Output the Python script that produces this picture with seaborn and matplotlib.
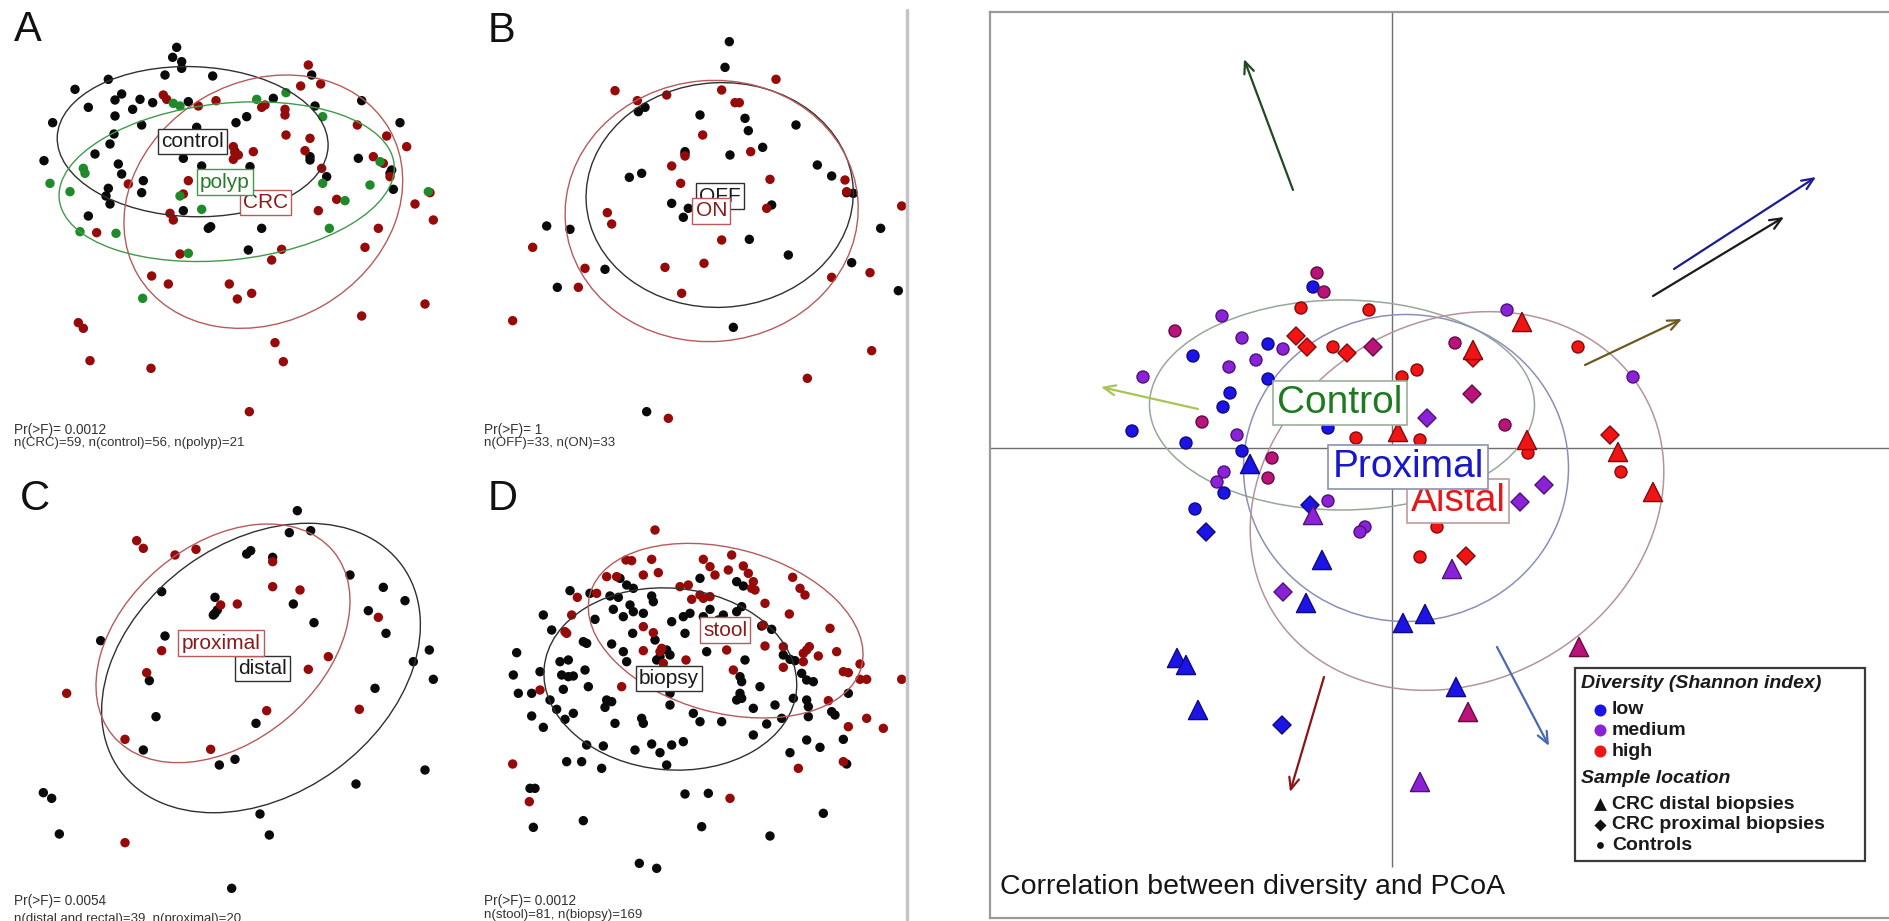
import numpy as np
import pandas as pd
import matplotlib
matplotlib.use("Agg")
import matplotlib.pyplot as plt
from matplotlib.patches import Ellipse, Rectangle
from matplotlib.lines import Line2D
import seaborn as sns

sns.set_theme(style="white")
plt.rcParams['font.family'] = ['Liberation Sans', 'DejaVu Sans']

# ---------------------------------------------------------------- data
# Panel A (ordination coordinates, screen-like units)
A_control = [(530,142),(518,172),(545,185),(545,205),(495,225),(325,238),(225,268),(638,228),(265,322),(158,368),
             (365,282),(345,300),(420,298),(458,308),(398,328),(345,348),(425,375),(342,402),(330,432),(285,462),
             (132,482),(355,492),(365,522),(430,542),(325,565),(318,588),(330,612),(425,578),(265,648),(550,475),
             (590,382),(605,498),(740,350),(708,368),(565,305),(820,295),(945,318),(930,470),(980,530),(550,632),
             (625,685),(632,680),(785,685),(745,750),(1085,302),(1200,368),(1075,475),(1175,510),(1180,568),(935,225),
             (705,455),(750,500),(1170,520),(930,480)]
A_crc = [(925,195),(962,252),(902,258),(795,315),(785,322),(490,285),(500,298),(595,318),(648,302),(855,328),
         (855,345),(858,405),(930,415),(915,452),(1072,375),(1160,408),(1220,440),(1120,470),(1150,490),(1170,530),
         (965,505),(700,440),(705,460),(700,478),(715,465),(760,455),(565,542),(385,552),(550,582),(510,640),
         (520,660),(1010,598),(1245,612),(1300,660),(1290,578),(955,632),(1135,685),(1095,742),(845,748),(815,780),
         (540,762),(290,698),(455,828),(505,852),(688,852),(712,897),(755,880),(1275,912),(1085,948),(235,968),
         (250,985),(825,1028),(850,1085),(270,1082),(453,1105),(748,1235)]
A_polyp = [(770,298),(858,278),(520,310),(540,318),(968,350),(255,520),(150,550),(210,575),(540,588),(605,628),
           (968,550),(1110,555),(1140,485),(1035,602),(1285,575),(988,685),(240,695),(348,700),(565,760),(428,895),
           (250,505)]

# Panel B
B_off = [(778,125),(765,202),(505,335),(525,322),(690,345),(825,355),(835,392),(978,375),(645,455),(780,465),
         (878,442),(478,532),(515,520),(1042,495),(1085,528),(1150,580),(605,610),(655,625),(640,652),(905,615),
         (230,678),(300,688),(838,718),(955,765),(1145,788),(1232,685),(405,808),(262,862),(1285,872),(790,982),
         (530,1235),(645,462),(1130,578)]
B_on = [(918,238),(435,272),(502,302),(590,285),(755,270),(795,308),(808,308),(698,405),(842,455),(645,468),
        (605,498),(632,550),(900,538),(1125,540),(1130,575),(890,625),(412,638),(425,672),(755,720),(702,790),
        (585,802),(345,805),(325,862),(635,880),(1085,832),(1200,818),(188,742),(1295,618),(128,962),(1205,1052),
        (1012,1135),(595,1255)]

# Panel C
C_distal = [(892,152),(868,218),(932,212),(740,282),(752,272),(818,292),(1050,345),(1150,382),(1215,422),(485,395),
            (645,412),(645,460),(640,465),(880,432),(942,488),(1105,452),(1158,520),(1288,570),(1240,605),(1300,658),
            (1125,685),(302,542),(495,528),(448,662),(468,770),(768,790),(430,870),(658,915),(705,898),(1275,930),
            (1068,972),(130,998),(155,1015),(178,1122),(780,1062),(808,1125),(695,1285),(652,450)]
C_proximal = [(410,242),(430,265),(525,285),(588,268),(818,305),(818,380),(900,390),(662,435),(712,432),(1135,472),
              (485,572),(440,638),(985,590),(925,628),(200,700),(800,752),(1078,748),(375,838),(632,868),(375,1148)]

# Panel D
D_biopsy = [(450,355),(470,375),(490,385),(420,408),(445,412),(545,408),(550,425),(300,392),(360,400),(375,478),
            (430,448),(480,435),(460,470),(490,455),(520,460),(220,465),(245,510),(340,545),(350,550),(488,520),
            (605,485),(640,470),(660,460),(645,520),(690,355),(720,448),(800,365),(820,378),(815,440),(800,455),
            (875,498),(905,508),(710,575),(590,570),(600,585),(425,552),(460,575),(470,605),(140,578),(130,645),
            (145,700),(185,700),(210,635),(270,605),(295,600),(275,645),(295,650),(310,648),(345,630),(355,680),
            (280,688),(240,720),(260,748),(285,778),(310,760),(185,768),(220,802),(410,720),(425,725),(405,742),
            (435,790),(515,775),(520,790),(600,735),(600,700),(580,660),(670,760),(690,785),(755,785),(810,700),
            (815,715),(800,720),(810,650),(815,665),(825,600),(870,680),(850,745),(915,735),(935,775),(890,792),
            (850,825),(970,715),(1010,720),(1015,740),(1015,770),(1085,755),(1095,765),(1135,700),(940,585),(960,598),
            (975,602),(995,640),(1010,660),(1030,665),(350,855),(400,858),(495,870),(545,852),(570,878),(605,855),
            (640,845),(590,915),(290,905),(335,905),(395,925),(960,878),(1010,840),(1050,862),(1120,838),(1130,912),
            (180,985),(195,985),(645,1002),(715,1000),(340,1082),(190,1102),(695,1100),(900,1128),(1060,1060),(508,1210),
            (560,1225),(555,540),(560,600),(570,590),(700,470),(745,480),(760,465)]
D_stool = [(555,210),(468,300),(485,302),(545,298),(700,298),(720,320),(735,345),(785,285),(775,330),(820,318),
           (835,340),(850,365),(855,390),(410,350),(440,350),(520,345),(565,338),(630,380),(655,375),(690,405),
           (720,410),(665,418),(380,400),(322,412),(305,465),(285,515),(290,520),(520,500),(550,518),(520,572),
           (575,565),(570,575),(648,600),(770,570),(790,630),(885,430),(968,352),(990,385),(1005,405),(958,462),
           (1080,505),(885,558),(940,560),(1018,560),(1045,588),(1100,575),(1170,612),(1120,635),(1135,638),(1170,658),
           (1190,658),(1295,658),(1000,605),(940,622),(1075,722),(1190,775),(1240,805),(1135,800),(1120,905),(985,925),
           (455,680),(210,690),(128,912),(178,1025),(780,1015),(600,640),(580,610),(880,495),(1000,580),(845,385),
           (700,415),(1010,570)]

# dispersion ellipses per panel: (cx, cy, width, height, angle)
A_ell = {'control': (578, 425, 813, 450, 2), 'polyp': (680, 545, 1010, 470, -6), 'CRC': (790, 605, 872, 719, -30)}
B_ell = {'OFF': (749, 585, 802, 674, -3), 'ON': (725, 633, 880, 783, -5)}
C_ell = {'proximal': (669, 550, 862, 592, -40), 'distal': (783, 624, 1046, 758, -36)}
D_ell = {'stool': (767, 512, 843, 493, 15), 'biopsy': (601, 657, 760, 545, 5)}

# centroid label positions
A_lab = {'control': (576, 424), 'polyp': (675, 546), 'CRC': (796, 607)}
B_lab = {'OFF': (750, 588), 'ON': (724, 633)}
C_lab = {'proximal': (663, 549), 'distal': (788, 626)}
D_lab = {'stool': (765, 510), 'biopsy': (597, 655)}

A_stats = ["Pr(>F)= 0.0012", "n(CRC)=59, n(control)=56, n(polyp)=21"]
B_stats = ["Pr(>F)= 1", "n(OFF)=33, n(ON)=33"]
C_stats = ["Pr(>F)= 0.0054", "n(distal and rectal)=39, n(proximal)=20"]
D_stats = ["Pr(>F)= 0.0012", "n(stool)=81, n(biopsy)=169"]

# Right panel: PCoA coloured by diversity
pc_circle = [(1317,273,'mh'),(1313,287,'low'),(1324,292,'mh'),(1301,308,'high'),(1222,316,'medium'),(1175,331,'mh'),
             (1242,338,'medium'),(1268,344,'low'),(1283,349,'medium'),(1333,347,'high'),(1193,356,'low'),(1256,360,'medium'),
             (1229,367,'medium'),(1143,377,'medium'),(1268,379,'low'),(1230,393,'low'),(1223,407,'low'),(1202,422,'mh'),
             (1132,431,'low'),(1186,443,'low'),(1237,435,'medium'),(1242,451,'low'),(1328,428,'low'),(1272,458,'mh'),
             (1369,310,'high'),(1507,310,'medium'),(1455,343,'mh'),(1578,347,'high'),(1417,370,'high'),(1402,377,'high'),
             (1505,425,'mh'),(1528,453,'high'),(1356,438,'high'),(1420,440,'high'),(1268,478,'mh'),(1224,472,'medium'),
             (1217,482,'medium'),(1224,493,'low'),(1195,509,'low'),(1328,501,'medium'),(1365,527,'medium'),(1360,532,'medium'),
             (1437,527,'high'),(1420,557,'high'),(1633,377,'medium'),(1621,472,'high')]
pc_diamond = [(1296,336,'high'),(1307,347,'high'),(1347,353,'high'),(1373,347,'mh'),(1473,358,'high'),(1472,394,'mh'),
              (1427,418,'medium'),(1206,532,'low'),(1310,505,'low'),(1283,592,'medium'),(1544,485,'medium'),
              (1520,502,'medium'),(1466,556,'high'),(1610,435,'high'),(1282,725,'low')]
pc_triangle = [(1522,322,'high'),(1473,350,'high'),(1527,440,'high'),(1398,432,'high'),(1250,464,'low'),(1313,515,'medium'),
               (1322,560,'low'),(1306,603,'low'),(1452,569,'medium'),(1403,623,'low'),(1425,614,'low'),(1653,492,'high'),
               (1618,452,'high'),(1177,658,'low'),(1186,665,'low'),(1198,710,'low'),(1456,687,'low'),(1468,712,'mh'),
               (1579,647,'mh'),(1420,782,'medium')]
pc_ell = {'Control': (1342, 405, 385, 210, 0), 'Proximal': (1406, 468, 325, 307, 0), 'Distal': (1457, 501, 430, 360, -30)}
pc_lab = {'Control': (1340, 403), 'Aistal': (1458, 501), 'Proximal': (1408, 467)}
arrow_start = [(1293,190),(1674,269),(1653,296),(1585,365),(1198,409),(1324,677),(1497,647)]
arrow_end = [(1244,59),(1816,177),(1784,217),(1682,319),(1101,387),(1290,792),(1549,746)]
arrow_col = ['#1f4a22', '#1c1c90', '#1a1a1a', '#6b5a20', '#a8c455', '#8b1515', '#4a6ab4']
legend_levels = ['low', 'medium', 'high']
legend_shapes = ['CRC distal biopsies', 'CRC proximal biopsies', 'Controls']
title_right = "Correlation between diversity and PCoA"

# ---------------------------------------------------------------- figure
W, H = 1890, 921
fig = plt.figure(figsize=(W / 100, H / 100), dpi=100)


def px_axes(x0, y0, x1, y1):
    return fig.add_axes([x0 / W, 1 - y1 / H, (x1 - x0) / W, (y1 - y0) / H])


BLACK = '#0a0a0a'
DRED = '#960a0a'
GREEN = '#1f8a2a'
STYLE = {'black': (BLACK, '#1a1a1a', '#303030'), 'red': (DRED, '#8b1a1a', '#b85a5a'),
         'green': (GREEN, '#2a7a2a', '#3f9a4a')}


def panel(box, xmax, ymax, letter, letter_xy, groups, ells, labs, stats, stat_y):
    ax = px_axes(*box)
    frames = []
    pal = {}
    for name, pts, key in groups:
        arr = np.array(pts, dtype=float)
        frames.append(pd.DataFrame({'x': arr[:, 0], 'y': arr[:, 1], 'g': name}))
        pal[name] = STYLE[key][0]
    df = pd.concat(frames, ignore_index=True)
    sns.scatterplot(data=df, x='x', y='y', hue='g', palette=pal, s=46, linewidth=0,
                    legend=False, ax=ax, zorder=2)
    for name, pts, key in groups:
        cx, cy, w, h, a = ells[name]
        ax.add_patch(Ellipse((cx, cy), w, h, angle=a, fill=False, ec=STYLE[key][2], lw=1.0, zorder=3))
    for name, pts, key in groups:
        x, y = labs[name]
        ax.text(x, y, name, fontsize=15, color=STYLE[key][1], ha='center', va='center', zorder=5,
                bbox=dict(boxstyle='square,pad=0.15', fc='white', ec=STYLE[key][2], lw=1.0))
    ax.text(letter_xy[0], letter_xy[1], letter, fontsize=30, color='#111111', ha='left', va='baseline')
    ax.text(42, stat_y[0], stats[0], fontsize=9.8, color='#333333', ha='left', va='center')
    ax.text(42, stat_y[1], stats[1], fontsize=9.5, color='#333333', ha='left', va='center')
    ax.set_xlim(0, xmax)
    ax.set_ylim(ymax, 0)
    ax.axis('off')
    return ax


panel((0, 0, 470, 460), 1410, 1380, 'A', (42, 122),
      [('control', A_control, 'black'), ('CRC', A_crc, 'red'), ('polyp', A_polyp, 'green')],
      A_ell, A_lab, A_stats, (1290, 1329))
panel((470, 0, 907, 460), 1311, 1380, 'B', (54, 126),
      [('OFF', B_off, 'black'), ('ON', B_on, 'red')],
      B_ell, B_lab, B_stats, (1290, 1329))
panel((0, 460, 470, 921), 1410, 1383, 'C', (60, 150),
      [('distal', C_distal, 'black'), ('proximal', C_proximal, 'red')],
      {'distal': C_ell['distal'], 'proximal': C_ell['proximal']},
      C_lab, C_stats, (1323, 1376))
panel((470, 460, 907, 921), 1311, 1383, 'D', (54, 150),
      [('biopsy', D_biopsy, 'black'), ('stool', D_stool, 'red')],
      D_ell, D_lab, D_stats, (1323, 1366))

# divider between left block and right panel
fig.add_artist(Line2D([907 / W, 907 / W], [0, 1 - 10 / H], color='#c4c4c4', lw=2.5,
                      transform=fig.transFigure))

# ---------------------------------------------------------------- right panel
ax = px_axes(990, 12, 1897, 918)
ax.set_xlim(990, 1897)
ax.set_ylim(918, 12)
ax.set_xticks([])
ax.set_yticks([])
for s in ['top', 'left', 'bottom']:
    ax.spines[s].set_color('#9a9a9a')
    ax.spines[s].set_linewidth(1.6)
ax.spines['right'].set_visible(False)

ax.axhline(448, color='#6e6e6e', lw=1.0, zorder=1)
ax.vlines(1392, 12, 867, color='#6e6e6e', lw=1.0, zorder=1)

ell_col = {'Control': '#98a898', 'Proximal': '#8a90b8', 'Distal': '#b4949a'}
for name, (cx, cy, w, h, a) in pc_ell.items():
    ax.add_patch(Ellipse((cx, cy), w, h, angle=a, fill=False, ec=ell_col[name], lw=1.1, zorder=1.5))

rows = []
for shape, pts in [('Controls', pc_circle), ('CRC proximal biopsies', pc_diamond), ('CRC distal biopsies', pc_triangle)]:
    for x, y, lv in pts:
        rows.append({'x': x, 'y': y, 'shape': shape, 'level': lv})
pc = pd.DataFrame(rows)
lev_pal = {'low': '#1c14e6', 'medium': '#8c22d8', 'mh': '#b8147a', 'high': '#f01414'}
sns.scatterplot(data=pc, x='x', y='y', hue='level', palette=lev_pal, style='shape',
                markers={'Controls': 'o', 'CRC proximal biopsies': 'D', 'CRC distal biopsies': '^'},
                size='shape', sizes={'Controls': 75, 'CRC proximal biopsies': 85, 'CRC distal biopsies': 190},
                legend=False, ax=ax, zorder=2)
coll = ax.collections[-1]
fc = np.array(coll.get_facecolors())
ec = fc.copy()
ec[:, :3] *= 0.55
coll.set_edgecolors(ec)
coll.set_linewidths(1.0)

for (x0, y0), (x1, y1), c in zip(arrow_start, arrow_end, arrow_col):
    ax.annotate('', xy=(x1, y1), xytext=(x0, y0), zorder=3,
                arrowprops=dict(arrowstyle='->,head_length=0.7,head_width=0.3', color=c, lw=1.6,
                                shrinkA=0, shrinkB=0))

lab_style = {'Control': ('#1e7a1e', '#9ab09a'), 'Aistal': ('#e21a1a', '#c09a9a'),
             'Proximal': ('#1818c8', '#8a90b8')}
for name, (x, y) in pc_lab.items():
    tc, bc = lab_style[name]
    ax.text(x, y, name, fontsize=28, color=tc, ha='center', va='center', zorder=5,
            bbox=dict(boxstyle='square,pad=0.1', fc='white', ec=bc, lw=1.2))

ax.text(1000, 887, title_right, fontsize=20.5, color='#151515', ha='left', va='center')

# legend box
ax.add_patch(Rectangle((1575, 668), 290, 193, fc='white', ec='#3a3a3a', lw=1.6, zorder=6))
lfs = 14
ax.text(1581, 684, 'Diversity (Shannon index)', fontsize=lfs, fontweight='bold', fontstyle='italic',
        color='#1a1a1a', ha='left', va='center', zorder=7)
for i, name in enumerate(legend_levels):
    yy = 710 + 20.5 * i
    ax.scatter([1600], [yy], s=75, color=lev_pal[name], zorder=7, linewidths=0)
    ax.text(1612, yy, name, fontsize=lfs, fontweight='bold', color='#1a1a1a', ha='left', va='center', zorder=7)
ax.text(1581, 778, 'Sample location', fontsize=lfs, fontweight='bold', fontstyle='italic',
        color='#1a1a1a', ha='left', va='center', zorder=7)
for i, (name, mk, sz) in enumerate(zip(legend_shapes, ['^', 'D', 'o'], [85, 38, 24])):
    yy = 804 + 20.5 * i
    ax.scatter([1600], [yy], s=sz, marker=mk, color='#111111', zorder=7, linewidths=0)
    ax.text(1612, yy, name, fontsize=lfs, fontweight='bold', color='#1a1a1a', ha='left', va='center', zorder=7)

ax.set_xlabel('')
ax.set_ylabel('')

fig.savefig('out.png', dpi=100, facecolor='white')
